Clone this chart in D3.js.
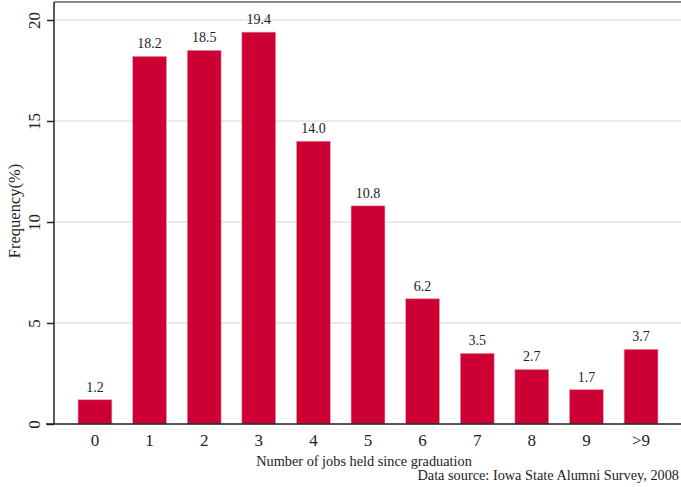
<!DOCTYPE html>
<html><head><meta charset="utf-8">
<script src="https://cdn.jsdelivr.net/npm/d3@7"></script>
<style>body{margin:0;background:#fff;} svg{display:block;} text{font-family:"Liberation Serif","Times New Roman",serif;}</style>
</head><body>
<script>
const categories = ["0","1","2","3","4","5","6","7","8","9",">9"];
const values = [1.2,18.2,18.5,19.4,14.0,10.8,6.2,3.5,2.7,1.7,3.7];
const yTicks = [0,5,10,15,20];
const xTitle = "Number of jobs held since graduation";
const yTitle = "Frequency(%)";
const note = "Data source: Iowa State Alumni Survey, 2008";

(function(){
const W=681,H=487;
const mLeft=54,mRight=682,mTop=2,zeroY=424;
const svg=d3.select("body").append("svg").attr("width",W).attr("height",H);
const x=d3.scaleBand().domain(categories).range([mLeft,mRight]).paddingInner(0.38).paddingOuter(0.44);
const y=d3.scaleLinear().domain([0,20]).range([zeroY,20]);

svg.append("g").selectAll("line").data(yTicks.filter(d=>d>0)).join("line")
 .attr("x1",mLeft).attr("x2",W).attr("y1",d=>y(d)).attr("y2",d=>y(d))
 .attr("stroke","#e3e3e3").attr("stroke-width",1.5);
svg.append("line").attr("x1",mLeft).attr("x2",W).attr("y1",mTop).attr("y2",mTop).attr("stroke","#666").attr("stroke-width",1.5);

svg.append("g").selectAll("rect").data(values).join("rect")
 .attr("x",(d,i)=>x(categories[i])).attr("width",x.bandwidth())
 .attr("y",d=>y(d)).attr("height",d=>zeroY-y(d))
 .attr("fill","#cc0033").attr("stroke","#e8a0b0").attr("stroke-width",0.6);

svg.append("g").selectAll("text").data(values).join("text")
 .attr("x",(d,i)=>x(categories[i])+x.bandwidth()/2).attr("y",d=>y(d)-8)
 .attr("text-anchor","middle").attr("font-size",14).attr("fill","#222")
 .text(d=>d.toFixed(1));

const ya=svg.append("g").attr("transform",`translate(${mLeft},0)`)
 .call(d3.axisLeft(y).tickValues(yTicks).tickSize(7).tickPadding(0).tickFormat(d3.format("d")));
ya.select(".domain").attr("stroke","#222").attr("stroke-width",1.5).attr("d",`M0,${mTop}V${zeroY}`);
ya.selectAll(".tick line").attr("stroke","#222").attr("stroke-width",1.5);
ya.selectAll(".tick text").attr("font-size",17).attr("fill","#222").attr("text-anchor","middle")
 .attr("transform","rotate(-90)").attr("x",0).attr("y",-14).attr("dy",0);

const xa=svg.append("g").attr("transform",`translate(0,${zeroY})`)
 .call(d3.axisBottom(x).tickSize(0).tickPadding(0));
xa.select(".domain").attr("stroke","#222").attr("stroke-width",1.5).attr("d",`M${mLeft-8},0H${W}`);
xa.selectAll(".tick text").attr("font-size",17).attr("fill","#222").attr("y",22).attr("dy",0);

svg.append("text").attr("x",364).attr("y",466).attr("text-anchor","middle").attr("font-size",14.3).attr("fill","#222").text(xTitle);
svg.append("text").attr("transform","translate(20,211) rotate(-90)").attr("text-anchor","middle").attr("font-size",16.5).attr("fill","#222").text(yTitle);
svg.append("text").attr("x",679).attr("y",480).attr("text-anchor","end").attr("font-size",14.3).attr("fill","#222").text(note);
})();
</script>
</body></html>
